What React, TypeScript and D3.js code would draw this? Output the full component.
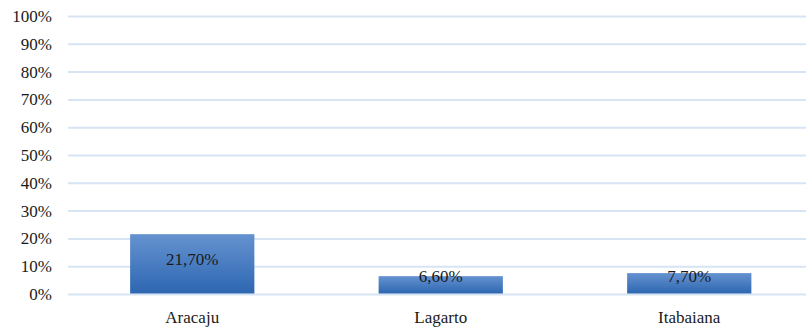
import React from "react";
import * as d3 from "d3";

const categories = ["Aracaju", "Lagarto", "Itabaiana"];
const values = [21.7, 6.6, 7.7];
const valueLabels = ["21,70%", "6,60%", "7,70%"];
const yTicks = [0, 10, 20, 30, 40, 50, 60, 70, 80, 90, 100];

const W = 806;
const H = 327;
const FONT = '"Liberation Serif", "Times New Roman", Tinos, "DejaVu Serif", serif';

export default function App() {
  const x = d3
    .scaleBand<string>()
    .domain(categories)
    .range([68, 813.5])
    .paddingInner(0.5)
    .paddingOuter(0.25);
  const y = d3.scaleLinear().domain([0, 100]).range([294.5, 16.5]);

  const textStyle = { fontFamily: FONT, fontSize: "17px" };

  return (
    <svg
      width={W}
      height={H}
      style={{ position: "absolute", left: 0, top: 0, display: "block", background: "#fff" }}
    >
      <defs>
        <linearGradient id="barFill" x1="0" y1="0" x2="0" y2="1">
          <stop offset="0%" stopColor="#6592d0" />
          <stop offset="100%" stopColor="#2d67b1" />
        </linearGradient>
      </defs>
      {yTicks.map((t) => (
        <g key={t}>
          <line x1={68} x2={W} y1={y(t)} y2={y(t)} stroke="#d6e4f4" strokeWidth={2} />
          <text
            x={52}
            y={y(t)}
            textAnchor="end"
            dominantBaseline="central"
            style={textStyle}
            fill="#1a1a1a"
          >
            {t}%
          </text>
        </g>
      ))}
      {categories.map((c, i) => {
        const x0 = x(c)!;
        const bw = x.bandwidth();
        const top = y(values[i]);
        const bottom = y(0);
        const labelY = Math.min((top + bottom) / 2 - 5, bottom - 18);
        return (
          <g key={c}>
            <rect x={x0} y={top} width={bw} height={bottom - top - 1} fill="url(#barFill)" />
            <text
              x={x0 + bw / 2}
              y={labelY}
              textAnchor="middle"
              dominantBaseline="central"
              style={textStyle}
              fill="#1a1a1a"
            >
              {valueLabels[i]}
            </text>
            <text
              x={x0 + bw / 2}
              y={323}
              textAnchor="middle"
              style={textStyle}
              fill="#1a1a1a"
            >
              {c}
            </text>
          </g>
        );
      })}
    </svg>
  );
}
